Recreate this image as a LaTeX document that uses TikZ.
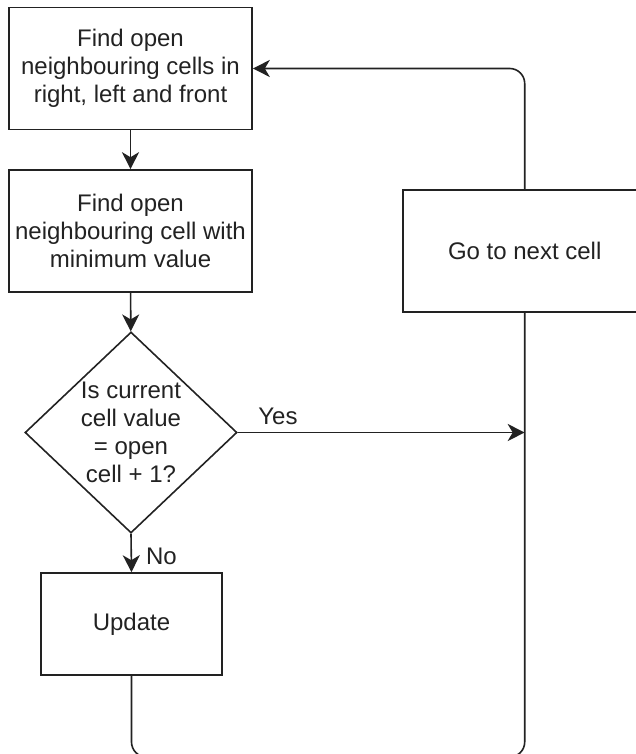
\documentclass[tikz,border=0pt]{standalone}
\usepackage{fontspec}
\setmainfont{Liberation Sans}
\usetikzlibrary{shapes.geometric, arrows.meta}
\definecolor{ink}{HTML}{222222}

\begin{document}
\begin{tikzpicture}[x=1pt, y=-1pt,
		box/.style = {draw = ink, line width = 1.6pt, align = center, text = ink,
			font = \fontsize{24}{28}\selectfont, inner sep = 2pt},
		decision/.style = {box, diamond, minimum width = 212pt, minimum height = 201pt, inner sep = -3pt},
		tag/.style = {text = ink, font = \fontsize{24}{28}\selectfont, inner sep = 2pt},
		line/.style = {draw = ink, line width = 1.6pt},
		link/.style = {line, -{Stealth[length = 17pt, width = 17pt, inset = 5pt]}}]
			\def\W{243};
			\def\H{122};
			
			\useasboundingbox (0,0) rectangle (635,754);
			
			\node [box, minimum width = \W, minimum height = \H] (find) at (130.5,68.5)
				{Find open\\neighbouring cells in\\right, left and front};
			\node [box, minimum width = \W, minimum height = \H] (find min) at (130.5,231)
				{Find open\\neighbouring cell with\\minimum value};
			\node [decision] (check) at (131,432.5)
				{Is current\\cell value\\= open\\cell + 1?};
			\node [box, minimum width = 181, minimum height = 102] (update) at (131.5,624) {Update};
			\node [box, minimum width = \W, minimum height = \H] (next cell) at (524.7,251) {Go to next cell};
			
			\coordinate (join) at (next cell.south |- check.east);
			\coordinate (low) at (0,757);
			
			\draw [link] (find) -- (find min);
			\draw [link] (find min) -- (check);
			\draw [link] (check.south) -- (update.north) node [tag, pos = 0.6, anchor = west, xshift = 12pt] {No};
			\draw [link] (check.east) -- (join) node [tag, pos = 0.14, above = 5pt] {Yes};
			
			\begin{scope}[rounded corners = 15pt]
				\draw [link] (next cell.north) |- (find.east);
				\draw [line] (update.south) -- (update.south |- low) -| (next cell.south);
			\end{scope}
		\end{tikzpicture}
\end{document}
